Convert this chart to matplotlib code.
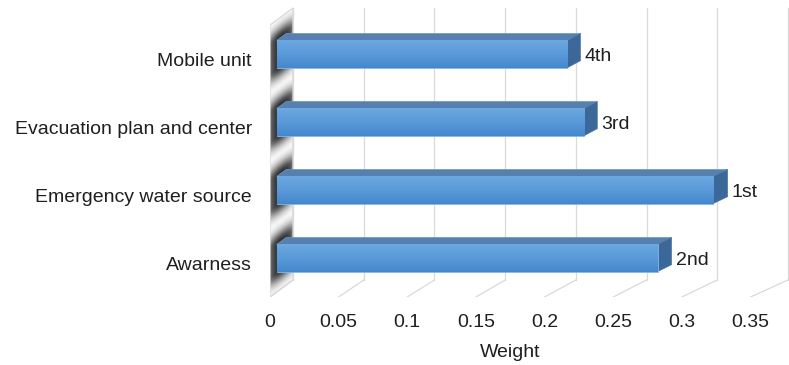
import numpy as np
import matplotlib.pyplot as plt
from matplotlib.patches import Polygon
from matplotlib.colors import LinearSegmentedColormap
from matplotlib.transforms import blended_transform_factory

categories = ['Awarness', 'Emergency water source', 'Evacuation plan and center', 'Mobile unit']
weights = [0.275, 0.315, 0.222, 0.210]
ranks = ['2nd', '1st', '3rd', '4th']
xticks = [0, 0.05, 0.1, 0.15, 0.2, 0.25, 0.3, 0.35]
xtick_labels = ['0', '0.05', '0.1', '0.15', '0.2', '0.25', '0.3', '0.35']

plt.rcParams['font.family'] = ['Liberation Sans', 'DejaVu Sans']
TXT = '#1f1f1f'

W, H = 789, 365
fig = plt.figure(figsize=(W / 100, H / 100), dpi=100)

# box geometry (pixels): front plane and back wall have slightly different scales
X0_FRONT, SCALE_FRONT = 270, 1373.0
X0_BACK, SCALE_BACK = 293, 1414.0
CAT_PX = 68.0
DEPTH_UP = 17.0 / CAT_PX
BAR_T0, BAR_T1 = 0.29, 0.70
BAR_HALF = 0.2


def proj(v, y, t):
    # point at value v, category y, depth t (0 front .. 1 back) -> front plane data coords
    px = (1 - t) * (X0_FRONT + SCALE_FRONT * v) + t * (X0_BACK + SCALE_BACK * v)
    return (px - X0_FRONT) / SCALE_FRONT, y + t * DEPTH_UP


ax = fig.add_axes([270 / W, (H - 297) / H, (W - 270) / W, 292 / H])
xlim = (0, (W - 270) / SCALE_FRONT)
ylim = (-0.5, -0.5 + 292 / CAT_PX)

n = len(categories)
y_lo, y_hi = -0.5, n - 0.5
grid_c = '#d9d9d9'

# back wall verticals and floor diagonals
for v in xticks:
    xb0, yb0 = proj(v, y_lo, 1)
    xb1, yb1 = proj(v, y_hi, 1)
    ax.plot([xb0, xb1], [yb0, yb1], color=grid_c, lw=0.9, zorder=1)
    xf, yf = proj(v, y_lo, 0)
    ax.plot([xf, xb0], [yf, yb0], color=grid_c, lw=0.9, zorder=1)

# left side wall with soft shadows of the bars
wall = [proj(0, y_lo, 0), proj(0, y_lo, 1), proj(0, y_hi, 1), proj(0, y_hi, 0)]
xw = proj(0, 0, 1)[0]
xs = np.linspace(0, xw, 60)
ys = np.linspace(y_lo, y_hi + DEPTH_UP, 700)
X, Y = np.meshgrid(xs, ys)
T = X / xw
Yw = Y - T * DEPTH_UP
dark = np.zeros_like(X)
for i in range(n):
    d = np.clip(np.abs(Yw - i) - BAR_HALF, 0, None)
    dark = np.maximum(dark, np.exp(-(d / 0.17) ** 2))
dark *= 0.55 + 0.45 * np.sin(np.pi * np.clip(T, 0, 1)) ** 0.5
rgba = np.zeros(X.shape + (4,))
rgba[..., :3] = 0.18
rgba[..., 3] = np.clip(dark * 1.0, 0, 1)
im = ax.imshow(rgba, extent=[0, xw, y_lo, y_hi + DEPTH_UP], origin='lower',
               aspect='auto', interpolation='bilinear', zorder=2)
im.set_clip_path(Polygon(wall, closed=True, transform=ax.transData))
ax.add_patch(Polygon(wall, closed=True, fill=False, edgecolor=grid_c, lw=0.9, zorder=2.5))

# bars
face_cmap = LinearSegmentedColormap.from_list('face', ['#4587cd', '#5a9ad8', '#6ca8e1'])
grad = np.linspace(0, 1, 64).reshape(-1, 1)
for i, (w, r) in enumerate(zip(weights, ranks)):
    lo, hi = i - BAR_HALF, i + BAR_HALF
    left, yc = proj(0, i, BAR_T0)
    right = proj(w, i, BAR_T0)[0]
    bar = ax.barh(yc, right - left, left=left, height=2 * BAR_HALF,
                  color='#5b9bd5', edgecolor='#86b6e6', lw=0.6, zorder=4)[0]
    shade = ax.imshow(grad, cmap=face_cmap, origin='lower', aspect='auto',
                      extent=[left, right, yc - BAR_HALF, yc + BAR_HALF],
                      interpolation='bilinear', zorder=4.1)
    shade.set_clip_path(bar)

    top = [proj(0, hi, BAR_T0), proj(w, hi, BAR_T0), proj(w, hi, BAR_T1), proj(0, hi, BAR_T1)]
    side = [proj(w, lo, BAR_T0), proj(w, lo, BAR_T1), proj(w, hi, BAR_T1), proj(w, hi, BAR_T0)]
    ax.add_patch(Polygon(top, closed=True, facecolor='#5580b0', edgecolor='#6d95c2', lw=0.5, zorder=3.5))
    ax.add_patch(Polygon(side, closed=True, facecolor='#3b6898', edgecolor='#4a78a8', lw=0.5, zorder=3.5))

    xl = proj(w, i, BAR_T1)[0]
    ax.annotate(r, (xl, yc), xytext=(3, -1.5), textcoords='offset points',
                ha='left', va='center', fontsize=14, color=TXT, zorder=5)

ax.set_xlim(*xlim)
ax.set_ylim(*ylim)
ax.set_xticks(xticks)
ax.set_xticklabels(xtick_labels)
ax.set_yticks(range(n))
ax.set_yticklabels(categories)
ax.tick_params(axis='x', length=0, pad=12.5, labelsize=14, labelcolor=TXT)
ax.tick_params(axis='y', length=0, pad=13, labelsize=14, labelcolor=TXT)
for s in ax.spines.values():
    s.set_visible(False)
ax.patch.set_visible(False)

trans = blended_transform_factory(ax.transData, ax.transAxes)
ax.text(0.175, -0.19, 'Weight', transform=trans, ha='center', va='center',
        fontsize=14, color=TXT)

fig.savefig('out.png', dpi=100)
